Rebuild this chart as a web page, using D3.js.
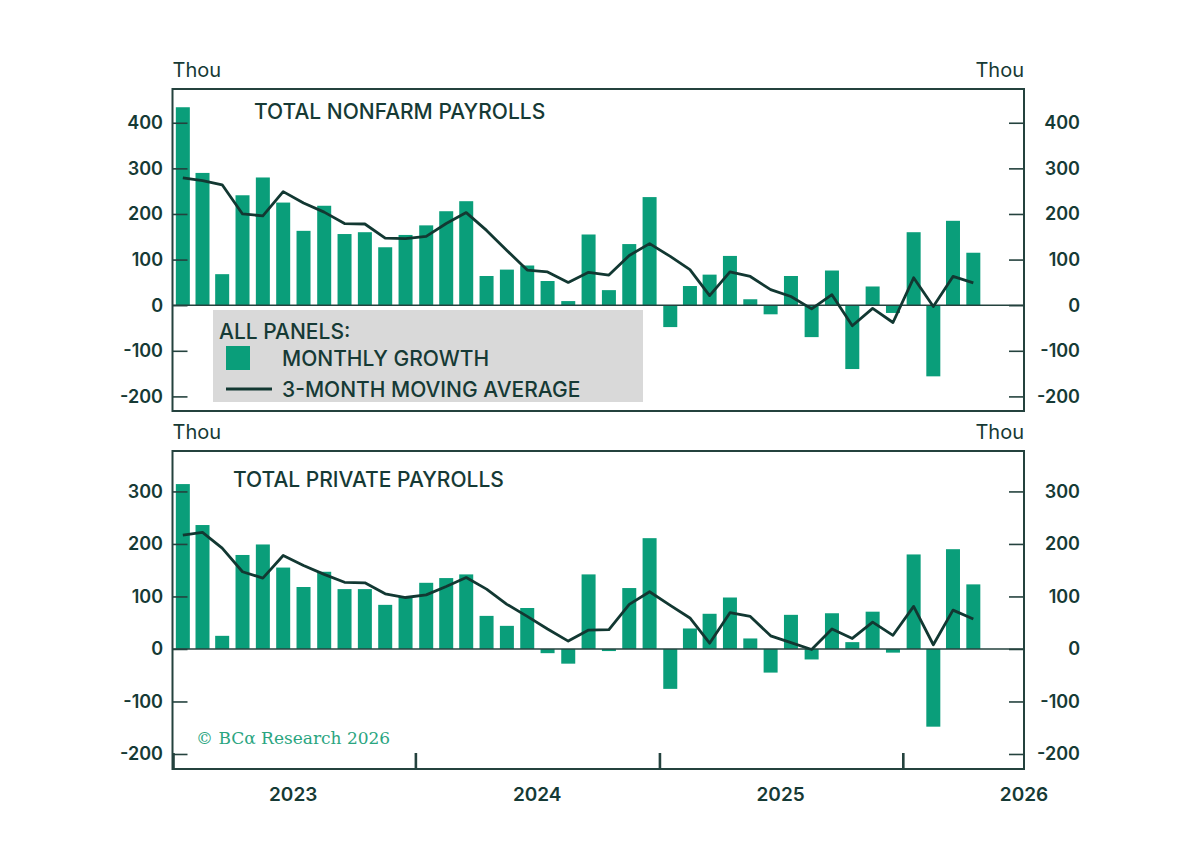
<!DOCTYPE html>
<html>
<head>
<meta charset="utf-8">
<script src="https://cdn.jsdelivr.net/npm/d3@7"></script>
<style>
  body { margin: 0; background: #fff; }
  svg text { font-family: "Inter", "Lato", sans-serif; fill: #163a35; }
</style>
</head>
<body>
<div id="chart"></div>
<script>
// monthly data, Jan 2023 onward (thousands)
const startMonth = new Date(2023, 0, 1);
const nonfarm = [434, 290, 68, 241, 280, 225, 163, 218, 156, 160,
                 127, 154, 175, 206, 228, 64, 78, 87, 53, 9,
                 155, 33, 134, 237, -48, 42, 67, 108, 13, -20,
                 64, -70, 76, -140, 41, -17, 160, -156, 185, 115];
const nonfarmAvg = [279, 273, 264, 200, 196, 249, 224, 204, 179, 178,
                    147, 146, 151, 179, 203, 164, 120, 77, 73, 50,
                    72, 66, 109, 135, 107, 78, 21, 73, 63, 34,
                    19, -8, 23, -45, -7, -38, 60, -3, 63, 49];
const privatePay = [314, 236, 25, 179, 199, 155, 118, 147, 114, 114,
                    84, 100, 126, 135, 142, 63, 44, 78, -8, -28,
                    142, -4, 116, 211, -76, 39, 67, 98, 20, -45,
                    65, -20, 68, 13, 71, -7, 180, -148, 190, 123];
const privateAvg = [217, 222, 192, 147, 135, 178, 159, 142, 127, 126,
                    105, 98, 103, 119, 136, 114, 85, 62, 38, 15,
                    36, 37, 85, 109, 83, 59, 11, 69, 62, 25,
                    12, -1, 38, 20, 51, 26, 81, 8, 74, 57];
const years = [2023, 2024, 2025, 2026];
const topTicks = [400, 300, 200, 100, 0, -100, -200];
const bottomTicks = [300, 200, 100, 0, -100, -200];

const width = 1200, height = 860;
const left = 172.5, right = 1024;
const barColor = "#0a9e7a", lineColor = "#123832", frameColor = "#24423e";

let svg = d3.select("#chart").append("svg")
    .attr("width", width)
    .attr("height", height);

let x = d3.scaleTime()
    .domain([startMonth, new Date(2026, 6, 1)])
    .range([left, right]);

function monthOf(i) { return d3.timeMonth.offset(startMonth, i); }
function midMonth(i) { return new Date((+monthOf(i) + +monthOf(i + 1)) / 2); }
let barW = 14;

function drawPanel(cfg) {
    let y = d3.scaleLinear().domain(cfg.domain).range([cfg.bottom, cfg.top]);
    let g = svg.append("g");

    g.selectAll("rect.bar").data(cfg.bars).enter()
        .append("rect")
        .attr("class", "bar")
        .attr("x", (d, i) => x(midMonth(i)) - barW / 2)
        .attr("y", d => y(Math.max(0, d)))
        .attr("width", barW)
        .attr("height", d => Math.abs(y(d) - y(0)))
        .attr("fill", barColor);

    // zero line
    g.append("line")
        .attr("x1", left).attr("x2", right)
        .attr("y1", y(0)).attr("y2", y(0))
        .attr("stroke", frameColor).attr("stroke-width", 1.6);

    let line = d3.line()
        .x((d, i) => x(midMonth(i)))
        .y(d => y(d));
    g.append("path")
        .datum(cfg.avg)
        .attr("d", line)
        .attr("fill", "none")
        .attr("stroke", lineColor)
        .attr("stroke-width", 2.8)
        .attr("stroke-linejoin", "round");

    // inward ticks on both sides
    g.append("g")
        .attr("transform", `translate(${left},0)`)
        .call(d3.axisRight(y).tickValues(cfg.ticks).tickSize(15).tickFormat(""))
        .call(a => a.select(".domain").remove())
        .call(a => a.selectAll("line").attr("stroke", frameColor).attr("stroke-width", 1.6));
    g.append("g")
        .attr("transform", `translate(${right},0)`)
        .call(d3.axisLeft(y).tickValues(cfg.ticks).tickSize(15).tickFormat(""))
        .call(a => a.select(".domain").remove())
        .call(a => a.selectAll("line").attr("stroke", frameColor).attr("stroke-width", 1.6));

    // tick labels
    [163, 1080].forEach(function(tx) {
        g.selectAll(null).data(cfg.ticks).enter()
            .append("text")
            .attr("x", tx)
            .attr("y", d => y(d) + 6.5)
            .style("text-anchor", "end")
            .style("font-size", "18px")
            .style("font-weight", 600)
            .text(d => d);
    });

    g.append("rect")
        .attr("x", left).attr("y", cfg.top)
        .attr("width", right - left).attr("height", cfg.bottom - cfg.top)
        .attr("fill", "none")
        .attr("stroke", frameColor)
        .attr("stroke-width", 2);

    g.append("text")
        .attr("x", left).attr("y", cfg.top - 12)
        .style("font-size", "20px")
        .text("Thou");
    g.append("text")
        .attr("x", right).attr("y", cfg.top - 12)
        .style("text-anchor", "end")
        .style("font-size", "20px")
        .text("Thou");

    g.append("text")
        .attr("x", cfg.titleX).attr("y", cfg.titleY)
        .style("font-size", "21px")
        .style("font-weight", 500)
        .text(cfg.title);

    return {g: g, y: y};
}

let topPanel = drawPanel({
    top: 89, bottom: 411, domain: [-232, 474],
    bars: nonfarm, avg: nonfarmAvg, ticks: topTicks,
    title: "TOTAL NONFARM PAYROLLS", titleX: 254, titleY: 119
});

let bottomPanel = drawPanel({
    top: 451, bottom: 769, domain: [-228.6, 377],
    bars: privatePay, avg: privateAvg, ticks: bottomTicks,
    title: "TOTAL PRIVATE PAYROLLS", titleX: 233, titleY: 487
});

// legend (applies to both panels)
let legend = svg.append("g");
legend.append("rect")
    .attr("x", 213).attr("y", 310)
    .attr("width", 430).attr("height", 92)
    .attr("fill", "#d9d9d9");
legend.append("text")
    .attr("x", 219).attr("y", 339)
    .style("font-size", "21px").style("font-weight", 500)
    .text("ALL PANELS:");
legend.append("rect")
    .attr("x", 226).attr("y", 346)
    .attr("width", 24).attr("height", 24)
    .attr("fill", barColor);
legend.append("text")
    .attr("x", 282).attr("y", 366)
    .style("font-size", "21px").style("font-weight", 500)
    .text("MONTHLY GROWTH");
legend.append("line")
    .attr("x1", 226).attr("x2", 272)
    .attr("y1", 389).attr("y2", 389)
    .attr("stroke", lineColor).attr("stroke-width", 3);
legend.append("text")
    .attr("x", 282).attr("y", 397)
    .style("font-size", "21px").style("font-weight", 500)
    .text("3-MONTH MOVING AVERAGE");

// year ticks and labels on the bottom panel
svg.append("g").selectAll("line").data(years).enter()
    .append("line")
    .attr("x1", d => x(new Date(d, 0, 1)) + (d === 2023 ? 1 : 0))
    .attr("x2", d => x(new Date(d, 0, 1)) + (d === 2023 ? 1 : 0))
    .attr("y1", 769).attr("y2", 753)
    .attr("stroke", frameColor).attr("stroke-width", 2.6);

svg.append("g").selectAll("text").data(years).enter()
    .append("text")
    .attr("x", d => x(new Date(d, 6, 1)))
    .attr("y", 801)
    .style("text-anchor", "middle")
    .style("font-size", "19px")
    .style("font-weight", 600)
    .text(d => d);

svg.append("text")
    .attr("x", 196).attr("y", 744)
    .style("font-family", "'DejaVu Serif', 'Liberation Serif', serif")
    .style("font-size", "17px")
    .style("fill", "#2aa57f")
    .text("© BCα Research 2026");
</script>
</body>
</html>
